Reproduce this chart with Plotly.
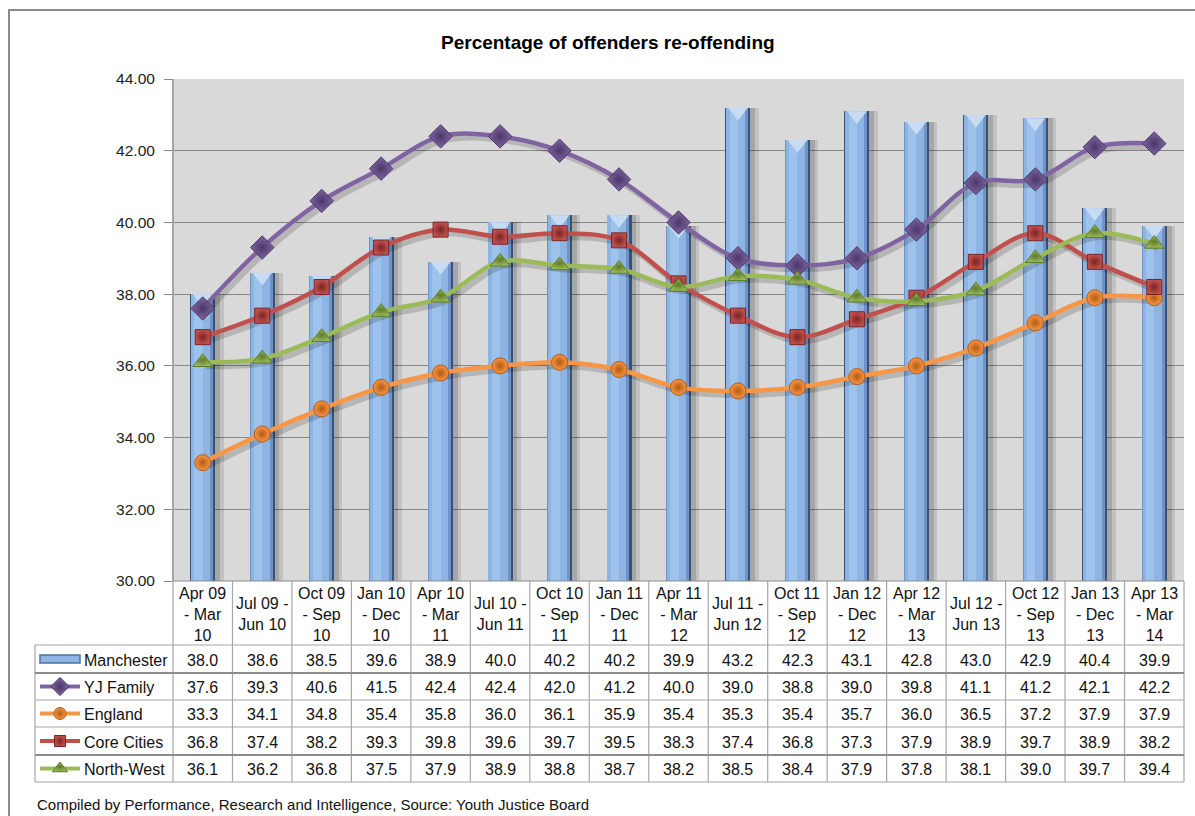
import plotly.graph_objects as go

# ---- data -------------------------------------------------------------
periods = [
    "Apr 09<br>- Mar<br>10", "Jul 09 -<br>Jun 10", "Oct 09<br>- Sep<br>10",
    "Jan 10<br>- Dec<br>10", "Apr 10<br>- Mar<br>11", "Jul 10 -<br>Jun 11",
    "Oct 10<br>- Sep<br>11", "Jan 11<br>- Dec<br>11", "Apr 11<br>- Mar<br>12",
    "Jul 11 -<br>Jun 12", "Oct 11<br>- Sep<br>12", "Jan 12<br>- Dec<br>12",
    "Apr 12<br>- Mar<br>13", "Jul 12 -<br>Jun 13", "Oct 12<br>- Sep<br>13",
    "Jan 13<br>- Dec<br>13", "Apr 13<br>- Mar<br>14",
]
manchester = [38.0, 38.6, 38.5, 39.6, 38.9, 40.0, 40.2, 40.2, 39.9,
              43.2, 42.3, 43.1, 42.8, 43.0, 42.9, 40.4, 39.9]
yj_family = [37.6, 39.3, 40.6, 41.5, 42.4, 42.4, 42.0, 41.2, 40.0,
             39.0, 38.8, 39.0, 39.8, 41.1, 41.2, 42.1, 42.2]
england = [33.3, 34.1, 34.8, 35.4, 35.8, 36.0, 36.1, 35.9, 35.4,
           35.3, 35.4, 35.7, 36.0, 36.5, 37.2, 37.9, 37.9]
core_cities = [36.8, 37.4, 38.2, 39.3, 39.8, 39.6, 39.7, 39.5, 38.3,
               37.4, 36.8, 37.3, 37.9, 38.9, 39.7, 38.9, 38.2]
north_west = [36.1, 36.2, 36.8, 37.5, 37.9, 38.9, 38.8, 38.7, 38.2,
              38.5, 38.4, 37.9, 37.8, 38.1, 39.0, 39.7, 39.4]
y_ticks = [30, 32, 34, 36, 38, 40, 42, 44]

title_text = "Percentage of offenders re-offending"
footer_text = ("Compiled by Performance, Research and Intelligence, "
               "Source: Youth Justice Board")

# ---- layout geometry (pixels) ------------------------------------------
W, H = 1195, 816
PL, PR, PT, PB = 173, 1184, 79, 581          # plot area
TL = 35                                       # table left edge
HEADER_BOTTOM = 645
ROW_EDGES = [645, 673, 700, 727, 755, 782]
FONT = "Liberation Sans, Arial, sans-serif"

x = list(range(len(periods)))


def py(v):
    """pixel row -> paper fraction"""
    return 1 - v / H


series = [
    # name, values, colour, dark colour, symbol, size
    ("YJ Family", yj_family, "#8064A2", "#4A3868", "diamond", 18),
    ("England", england, "#F79646", "#B45A14", "circle", 16),
    ("Core Cities", core_cities, "#C0504D", "#7A2523", "square", 15),
    ("North-West", north_west, "#9BBB59", "#5E7A2A", "triangle-up", 17),
]

fig = go.Figure()

# ---- bevelled columns ---------------------------------------------------
bar_layers = [
    # colour, offset, width
    ("rgba(0,0,0,0.10)", -0.20, 0.55),
    ("rgba(0,0,0,0.14)", -0.20, 0.49),
    ("#36527A", -0.21, 0.42),
    ("#6F93C4", -0.205, 0.38),
    ("#8DB4E2", -0.195, 0.32),
    ("#9DC2EC", -0.14, 0.14),
]
for colour, off, wid in bar_layers:
    fig.add_trace(go.Bar(
        x=x, y=manchester, offset=off, width=wid,
        marker=dict(color=colour, line=dict(width=0)),
        showlegend=False, hoverinfo="skip",
    ))
# light bevel at the top of each column
fig.add_trace(go.Scatter(
    x=x, y=[v - 0.12 for v in manchester], mode="markers",
    marker=dict(symbol="triangle-down", size=17, color="#C7DCF3",
                line=dict(width=0)),
    showlegend=False, hoverinfo="skip",
))

# ---- smoothed lines with soft shadows -----------------------------------
for name, vals, col, dark, sym, size in series:
    fig.add_trace(go.Scatter(
        x=[v + 0.06 for v in x], y=[v - 0.11 for v in vals], mode="lines",
        line=dict(color="rgba(0,0,0,0.16)", width=6, shape="spline",
                  smoothing=1.0),
        showlegend=False, hoverinfo="skip",
    ))
for name, vals, col, dark, sym, size in series:
    fig.add_trace(go.Scatter(
        x=x, y=vals, mode="lines+markers", name=name,
        line=dict(color=col, width=4.5, shape="spline", smoothing=1.0),
        marker=dict(symbol=sym, size=size, color=col,
                    gradient=dict(type="radial", color=dark),
                    line=dict(width=1, color=dark)),
        showlegend=False,
    ))

# ---- legend keys inside the table (pixel axis x2/y2) -------------------
row_centres = [(ROW_EDGES[i] + ROW_EDGES[i + 1]) / 2 for i in range(5)]
row_names = ["Manchester"] + [s[0] for s in series]

for (name, vals, col, dark, sym, size), yc in zip(series, row_centres[1:]):
    fig.add_trace(go.Scatter(
        x=[40, 80], y=[yc, yc], mode="lines", xaxis="x2", yaxis="y2",
        line=dict(color=col, width=4), showlegend=False, hoverinfo="skip",
    ))
    fig.add_trace(go.Scatter(
        x=[60], y=[yc], mode="markers", xaxis="x2", yaxis="y2",
        marker=dict(symbol=sym, size=size - 4, color=col,
                    gradient=dict(type="radial", color=dark),
                    line=dict(width=1, color=dark)),
        showlegend=False, hoverinfo="skip", cliponaxis=False,
    ))

shapes = []
# plot area background
shapes.append(dict(type="rect", xref="x domain", yref="y domain",
                   x0=0, x1=1, y0=0, y1=1, fillcolor="#D9D9D9",
                   line=dict(width=0), layer="below"))
# Manchester key
yc0 = row_centres[0]
shapes.append(dict(type="rect", xref="x2", yref="y2", x0=40, x1=80,
                   y0=yc0 - 4, y1=yc0 + 4, fillcolor="#8DB4E2",
                   line=dict(color="#4F6F9E", width=1.5)))

grid_col = "#A6A6A6"
# vertical table rules
for i in range(len(periods) + 1):
    xp = PL + i * (PR - PL) / len(periods)
    shapes.append(dict(type="line", xref="x2", yref="y2", x0=xp, x1=xp,
                       y0=PB, y1=ROW_EDGES[-1],
                       line=dict(color=grid_col, width=1.2)))
shapes.append(dict(type="line", xref="x2", yref="y2", x0=TL, x1=TL,
                   y0=HEADER_BOTTOM, y1=ROW_EDGES[-1],
                   line=dict(color=grid_col, width=1.2)))
# horizontal table rules
for k, yp in enumerate(ROW_EDGES):
    heavy = k in (1, 4)
    shapes.append(dict(type="line", xref="x2", yref="y2", x0=TL, x1=PR,
                       y0=yp, y1=yp,
                       line=dict(color="#8C8C8C" if heavy else grid_col,
                                 width=2.2 if heavy else 1.2)))
# plot area left edge and bottom edge
shapes.append(dict(type="line", xref="x2", yref="y2", x0=PL, x1=PL,
                   y0=PT, y1=PB, line=dict(color="#A6A6A6", width=2)))
shapes.append(dict(type="line", xref="x2", yref="y2", x0=PL, x1=PR,
                   y0=PB, y1=PB, line=dict(color="#8C8C8C", width=1.2)))
# outer chart frame
shapes.append(dict(type="rect", xref="x2", yref="y2", x0=9, x1=1220,
                   y0=10, y1=840, line=dict(color="#8C8C8C", width=2)))

# ---- table text ---------------------------------------------------------
annotations = []
for i, lab in enumerate(periods):
    annotations.append(dict(
        x=i, xref="x", y=py((PB + HEADER_BOTTOM) / 2 + 1), yref="paper",
        text=lab, showarrow=False, xanchor="center", yanchor="middle",
        font=dict(family=FONT, size=16, color="#111"),
    ))
all_rows = [manchester] + [s[1] for s in series]
for vals, yc in zip(all_rows, row_centres):
    for i, v in enumerate(vals):
        annotations.append(dict(
            x=i, xref="x", y=py(yc + 1), yref="paper", text=f"{v:.1f}",
            showarrow=False, xanchor="center", yanchor="middle",
            font=dict(family=FONT, size=16, color="#111"),
        ))
for name, yc in zip(row_names, row_centres):
    annotations.append(dict(
        x=82 / W, xref="paper", y=py(yc + 1), yref="paper", text=name,
        showarrow=False, xanchor="left", yanchor="middle",
        font=dict(family=FONT, size=16, color="#111"),
    ))
annotations.append(dict(
    x=608 / W, xref="paper", y=py(42), yref="paper", text=f"<b>{title_text}</b>",
    showarrow=False, xanchor="center", yanchor="middle",
    font=dict(family=FONT, size=19, color="#000"),
))
annotations.append(dict(
    x=TL / W, xref="paper", y=py(804), yref="paper", text=footer_text,
    showarrow=False, xanchor="left", yanchor="middle",
    font=dict(family=FONT, size=15, color="#111"),
))

fig.update_layout(
    width=W, height=H, autosize=False,
    margin=dict(l=0, r=0, t=0, b=0, pad=0, autoexpand=False),
    paper_bgcolor="white", plot_bgcolor="rgba(0,0,0,0)",
    barmode="overlay", bargap=0,
    showlegend=False,
    xaxis=dict(domain=[PL / W, PR / W], range=[-0.5, len(periods) - 0.5],
               showticklabels=False, showgrid=False, zeroline=False,
               showline=False, ticks="", fixedrange=True, automargin=False),
    yaxis=dict(domain=[1 - PB / H, 1 - PT / H], range=[30, 44],
               tickvals=y_ticks, tickformat=".2f", showgrid=True,
               gridcolor="#878787", gridwidth=1, zeroline=False,
               ticks="outside", ticklen=8, tickcolor="#878787",
               ticklabelstandoff=6,
               tickfont=dict(family=FONT, size=15.5, color="#222"),
               showline=False, fixedrange=True, automargin=False),
    xaxis2=dict(domain=[0, 1], range=[0, W], visible=False, anchor="y2",
                fixedrange=True, automargin=False),
    yaxis2=dict(domain=[0, 1], range=[H, 0], visible=False, anchor="x2",
                fixedrange=True, automargin=False),
    shapes=shapes,
    annotations=annotations,
)

fig.write_html("out.html")
